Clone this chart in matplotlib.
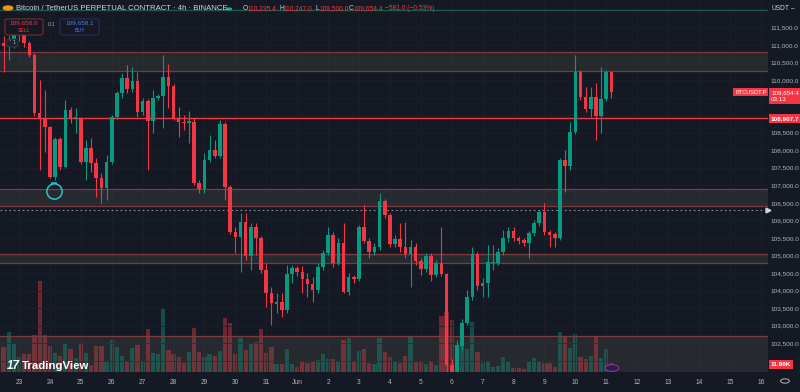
import matplotlib
matplotlib.use("Agg")
import matplotlib.pyplot as plt
import matplotlib.patches as mpatches
import numpy as np

plt.rcParams['font.family'] = ['Liberation Sans', 'DejaVu Sans']

# ---------------- data ----------------
first_bar = -3   # bar index of first visible 4h candle (0 = 23 May 00:00)
opens = [111050, 110950, 111130, 111280, 111280, 111055, 110712, 109060, 108917, 108660,
         107235, 108318, 107520, 109145, 108917, 108917, 107663, 108062, 107634, 107207,
         106922, 107663, 108945, 109630, 110057, 109743, 109971, 109088, 109401, 108831,
         109487, 109544, 110085, 109829, 108917, 108803, 108774, 108803, 107064, 106893,
         107720, 108005, 107834, 108746, 106950, 105668, 105525, 105953, 104984, 105810,
         105497, 104585, 103929, 103616, 103673, 103445, 104471, 104642, 104528, 104328,
         104186, 104015, 104670, 105069, 105582, 104784, 105354, 103958, 104385, 104328,
         105810, 105411, 105098, 105240, 106551, 106152, 105326, 105468, 105240, 105041,
         105240, 104841, 104613, 104984, 104442, 104784, 104471, 101880, 101100, 102420,
         103074, 103815, 105041, 104129, 104214, 104784, 104784, 105098, 105497, 105696,
         105497, 105440, 105354, 105639, 105924, 106238, 105668, 105611, 105497, 107720,
         107549, 108518, 110228, 109515, 109173, 109515, 108974, 109458, 110235.4]
highs = [111250, 111250, 111400, 111500, 111450, 111110, 110770, 110000, 109715, 108700,
         108375, 108375, 109430, 109230, 109200, 108945, 108290, 108347, 107777, 107350,
         107862, 109002, 109686, 110200, 110428, 110370, 110228, 109487, 109458, 109715,
         109600, 110712, 110456, 109886, 109230, 109002, 109116, 108917, 107150, 107920,
         108432, 108290, 108860, 108803, 107007, 105810, 106209, 106209, 105924, 105924,
         105554, 104784, 104100, 103929, 103929, 104727, 104727, 104699, 104699, 104499,
         104385, 104784, 105155, 105810, 105668, 105497, 105924, 104499, 104442, 105867,
         106437, 105497, 105354, 106780, 106608, 106209, 105582, 105924, 105953, 105440,
         105354, 104927, 105069, 105069, 104870, 105810, 104500, 102050, 102600, 103200,
         104015, 105240, 105098, 104357, 105297, 105297, 105212, 105725, 105810, 105810,
         105554, 105497, 105696, 106010, 106295, 106494, 105725, 105668, 107777, 108005,
         108803, 110712, 110285, 109800, 109800, 109914, 110370, 110285, 110247.0]
lows = [110230, 110570, 110900, 111100, 110950, 110655, 108974, 107435, 107948, 107207,
        107150, 107435, 107490, 108774, 108489, 107606, 107150, 107378, 106665, 106494,
        106580, 107606, 108888, 109487, 109630, 109658, 108945, 109002, 107435, 108489,
        109430, 108632, 109202, 108860, 108375, 108575, 108205, 107007, 106780, 106780,
        107663, 107777, 107777, 106580, 105611, 105069, 104528, 104870, 104585, 105012,
        104499, 103530, 103017, 103359, 103245, 103359, 104214, 104414, 103929, 103815,
        103673, 103929, 104585, 105012, 104670, 104727, 103929, 103872, 104214, 104271,
        105354, 104927, 105012, 105155, 106067, 105240, 105240, 105098, 104927, 104100,
        104727, 104442, 104528, 104271, 104385, 104414, 101500, 100400, 101000, 102300,
        103017, 103730, 104015, 103815, 103815, 104585, 104727, 105012, 105383, 105411,
        105326, 105269, 104927, 105554, 105839, 105582, 105240, 105240, 105440, 106808,
        107435, 108461, 109430, 109088, 108945, 108290, 108489, 109401, 109500.0]
closes = [110960, 111130, 111280, 111310, 111055, 110712, 109060, 108917, 108660, 107235,
          108318, 107520, 109145, 108917, 108940, 107663, 108062, 107634, 107207, 106922,
          107663, 108945, 109630, 110057, 109743, 109971, 109088, 109401, 108831, 109487,
          109544, 110085, 109829, 108917, 108803, 108774, 108831, 107064, 106893, 107720,
          108005, 107834, 108746, 106950, 105668, 105525, 105953, 104984, 105810, 105497,
          104585, 103929, 103644, 103673, 103445, 104471, 104642, 104528, 104328, 104186,
          104015, 104670, 105069, 105582, 104784, 105354, 103958, 104385, 104328, 105810,
          105411, 105098, 105240, 106551, 106152, 105326, 105468, 105240, 105041, 105240,
          104841, 104613, 104984, 104442, 104784, 104471, 101880, 101100, 102447, 103074,
          103815, 105041, 104129, 104214, 104813, 104813, 105098, 105497, 105696, 105497,
          105411, 105354, 105639, 105924, 106238, 105668, 105582, 105497, 107720, 107549,
          108518, 110228, 109515, 109173, 109515, 108974, 109458, 110228, 109654.4]
volumes_k = [33, 53, 37, 20, 24, 24, 49, 121, 49, 35, 25, 21, 37, 31, 19, 39, 25, 9, 35, 35,
             13, 43, 33, 21, 15, 32, 36, 15, 57, 25, 24, 85, 29, 24, 20, 12, 27, 59, 27, 20,
             24, 21, 28, 72, 65, 24, 45, 29, 37, 40, 57, 25, 33, 11, 11, 31, 11, 7, 13, 12,
             15, 16, 24, 17, 17, 15, 43, 45, 15, 28, 31, 12, 11, 45, 27, 20, 13, 12, 21, 47,
             13, 13, 11, 15, 9, 74, 80, 69, 35, 65, 31, 67, 27, 12, 15, 7, 8, 20, 13, 5,
             5, 4, 13, 19, 13, 12, 12, 7, 53, 47, 32, 51, 20, 17, 21, 47, 19, 31, 11.98]

day_labels = ['23', '24', '25', '26', '27', '28', '29', '30', '31', 'Jun', '2', '3', '4', '5',
              '6', '7', '8', '9', '10', '11', '12', '13', '14', '15', '16']
bars_per_day = 6

zones = [(110248, 110789), (106418, 106894), (104776, 105041), (100000, 102704)]
level_line = 108907.7
prev_close_line = 106287
top_line = 111995
marker_bar, marker_price = 6.8, 106836
hidden_ticks = [109500, 109000, 102000]   # covered by the coloured price tags

last_price_label = "109,654.4"
countdown = "03:13"
vol_label = "11.98K"
ohlc_vals = ["110,235.4", "110,247.0", "109,500.0", "109,654.4"]
change_txt = "\u2212581.0 (\u22120.53%)"

# ---------------- style ----------------
BG = '#151924'
UP = '#089981'
DN = '#f23645'
TXT = '#b2b5be'
GRID = '#1b1f2a'

W, H = 800, 392
fig = plt.figure(figsize=(8, 3.92), dpi=100, facecolor=BG)

def fx(x):
    return x / W

def fy(y):
    return 1 - y / H

pane_left, pane_right, pane_top, pane_bot = 0, 768, 0, 372
rect = [fx(pane_left), fy(pane_bot), (pane_right - pane_left) / W, (pane_bot - pane_top) / H]

axv = fig.add_axes(rect, zorder=0)
ax = fig.add_axes(rect, zorder=1)
ax.set_facecolor('none')
axv.set_facecolor(BG)

n = len(opens)
idx = np.arange(n) + first_bar
o = np.array(opens); h = np.array(highs); l = np.array(lows); c = np.array(closes)
up = c >= o
cols = np.where(up, UP, DN)

xlim = (-3.69, 145.4)
ylim = (101678, 112280)
ax.set_xlim(*xlim); ax.set_ylim(*ylim)
axv.set_xlim(*xlim); axv.set_ylim(0, 495)

# volume
axv.bar(idx, volumes_k, width=0.82, color=cols, alpha=0.42, linewidth=0)
axv.set_xticks([]); axv.set_yticks([])
for s in axv.spines.values():
    s.set_visible(False)

# grid
price_ticks = np.arange(102000, 111501, 500)
day_ticks = np.arange(len(day_labels)) * bars_per_day
for p in price_ticks:
    ax.axhline(p, color=GRID, lw=0.6, zorder=0)
for d in day_ticks:
    ax.axvline(d, color=GRID, lw=0.6, zorder=0)

# zones
for lo, hi in zones:
    ax.axhspan(lo, hi, facecolor='#6e7060', alpha=0.2, edgecolor='none', zorder=1)
    ax.axhline(lo, color='#7a3a40', lw=0.9, zorder=1.1)
    ax.axhline(hi, color='#7a3a40', lw=0.9, zorder=1.1)
ax.axhline(level_line, color=DN, lw=1.0, zorder=1.2)
ax.axhline(prev_close_line, color='#8a8e99', lw=0.8, ls=(0, (1.5, 2.5)), zorder=1.2)
ax.axhline(top_line, color='#1f5a44', lw=1.0, zorder=1.2)

# candles
ax.vlines(idx, l, h, colors=cols, lw=0.8, zorder=2)
body_lo = np.minimum(o, c)
body_h = np.maximum(np.abs(c - o), 25)
ax.bar(idx, body_h, bottom=body_lo, width=0.7, color=cols, linewidth=0, zorder=3)

# marker circle
ax.plot([marker_bar], [marker_price], marker='o', ms=11, mfc='none', mec='#2bc4cf', mew=1.1, zorder=4)
ax.plot([marker_bar], [marker_price + 230], marker='_', ms=5, mec='#2bc4cf', mew=1.1, zorder=4)

# axes ticks
ax.yaxis.tick_right()
ax.set_yticks(price_ticks)
ax.set_yticklabels(["" if p in hidden_ticks else f"{p:,.1f}" for p in price_ticks])
ax.tick_params(axis='y', length=0, pad=2, labelsize=4.6, labelcolor=TXT)
ax.set_xticks(day_ticks)
ax.set_xticklabels(day_labels)
ax.tick_params(axis='x', length=0, pad=5, labelsize=4.8, labelcolor=TXT)
for s in ax.spines.values():
    s.set_visible(False)

# right-axis labels
yt = ax.get_yaxis_transform()
ax.text(1.004, float(closes[-1]) - 110, f"{last_price_label}\n{countdown}", transform=yt,
        ha='left', va='center', fontsize=4.5, color='white', linespacing=1.35,
        bbox=dict(boxstyle='square,pad=0.35', fc=DN, ec='none'), zorder=10, clip_on=False)
ax.text(0.998, float(closes[-1]), "BTCUSDT.P", transform=yt, ha='right', va='center',
        fontsize=4.1, color='white', bbox=dict(boxstyle='square,pad=0.3', fc=DN, ec='none'),
        zorder=10, clip_on=False)
ax.text(1.004, level_line, f"{level_line:,.1f}", transform=yt, ha='left', va='center',
        fontsize=4.6, color='white', fontweight='bold',
        bbox=dict(boxstyle='square,pad=0.3', fc=DN, ec='none'), zorder=10, clip_on=False)
ax.text(1.004, 101890, vol_label, transform=yt, ha='left', va='center', fontsize=4.6,
        color='white', fontweight='bold',
        bbox=dict(boxstyle='square,pad=0.3', fc=DN, ec='none'), zorder=10, clip_on=False)
ax.plot([1.0], [prev_close_line], transform=yt, marker='>', ms=3.5, color='#d1d4dc',
        clip_on=False, zorder=10)

# header texts
fig.text(fx(771), fy(9), "USDT", fontsize=4.8, color='#d1d4dc', va='center', ha='left')
fig.text(fx(791), fy(9), "\u2013", fontsize=4.8, color='#d1d4dc', va='center', ha='left')
fig.patches.append(mpatches.Circle((fx(8), fy(8)), 0.0068, transform=fig.transFigure,
                                   fc='#f7931a', ec='none'))
fig.text(fx(16), fy(9), "Bitcoin / TetherUS PERPETUAL CONTRACT \u00b7 4h \u00b7 BINANCE",
         fontsize=5.6, color='#d1d4dc', va='center', ha='left')
fig.patches.append(mpatches.Circle((fx(229), fy(9)), 0.004, transform=fig.transFigure,
                                   fc='#26a69a', ec='none'))
xs_lab = [243, 279, 315, 349]
for xl, lab, val in zip(xs_lab, "OHLC", ohlc_vals):
    fig.text(fx(xl), fy(9), lab, fontsize=4.8, color='#d1d4dc', va='center', ha='left')
    fig.text(fx(xl + 4.3), fy(9), val, fontsize=4.8, color=DN, va='center', ha='left')
fig.text(fx(385), fy(9), change_txt, fontsize=4.8, color=DN, va='center', ha='left')

# sell / buy boxes
fig.patches.append(mpatches.FancyBboxPatch((fx(5), fy(35)), fx(38), 16 / H,
                   boxstyle='round,pad=0,rounding_size=0.004', transform=fig.transFigure,
                   fc=BG, ec='#7a2a32', lw=0.8))
fig.text(fx(24), fy(23), "109,658.0", fontsize=4.6, color=DN, ha='center', va='center')
fig.text(fx(24), fy(30.5), "SELL", fontsize=3.8, color=DN, ha='center', va='center')
fig.text(fx(51), fy(25), "0.1", fontsize=3.8, color=TXT, ha='center', va='center')
fig.patches.append(mpatches.FancyBboxPatch((fx(60), fy(35)), fx(39), 16 / H,
                   boxstyle='round,pad=0,rounding_size=0.004', transform=fig.transFigure,
                   fc=BG, ec='#23305a', lw=0.8))
fig.text(fx(79.5), fy(23), "109,658.1", fontsize=4.6, color='#4a7bf7', ha='center', va='center')
fig.text(fx(79.5), fy(30.5), "BUY", fontsize=3.8, color='#4a7bf7', ha='center', va='center')
fig.patches.append(mpatches.FancyBboxPatch((fx(7), fy(47)), fx(11), 8 / H,
                   boxstyle='round,pad=0,rounding_size=0.003', transform=fig.transFigure,
                   fc='#1e222d', ec='#363a45', lw=0.6))
fig.text(fx(12.5), fy(43), "\u02c5 1", fontsize=3.6, color=TXT, ha='center', va='center',
         family=['DejaVu Sans'])

# TradingView logo
fig.text(fx(7), fy(366), "17", fontsize=8.5, color='white', fontweight='heavy',
         ha='left', va='center', style='italic')
fig.text(fx(22), fy(366), "TradingView", fontsize=8.2, color='white', fontweight='bold',
         ha='left', va='center')

# small icons
fig.patches.append(mpatches.Circle((fx(612), fy(368)), 0.0085, transform=fig.transFigure,
                                   fc='#2a1f3d', ec='#9c27b0', lw=0.8))
fig.patches.append(mpatches.Circle((fx(785), fy(381)), 0.0055, transform=fig.transFigure,
                                   fc='none', ec=TXT, lw=0.7))

fig.savefig("out.png", dpi=100, facecolor=BG)
